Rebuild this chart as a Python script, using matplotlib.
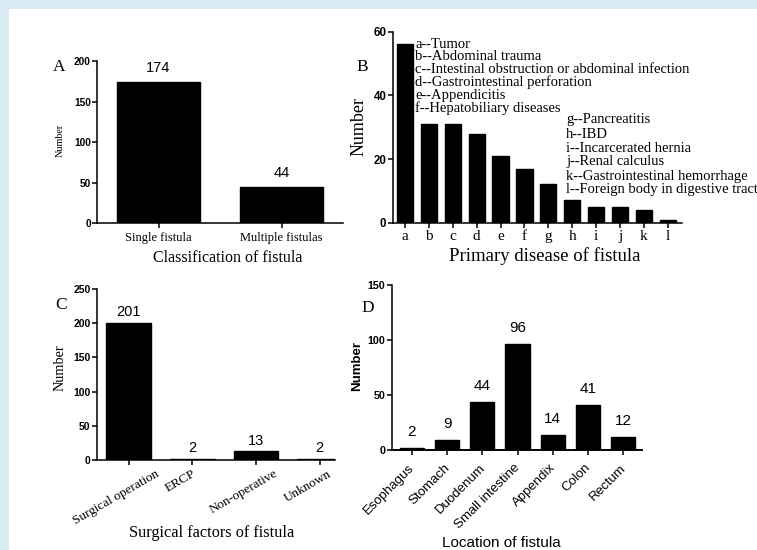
import matplotlib
matplotlib.use("Agg")
import matplotlib.pyplot as plt
from matplotlib.patches import Rectangle
from matplotlib.transforms import ScaledTranslation

# ---------------- data ----------------
a_cats = ["Single fistula", "Multiple fistulas"]
a_vals = [174, 44]

b_cats = ["a", "b", "c", "d", "e", "f", "g", "h", "i", "j", "k", "l"]
b_vals = [56, 31, 31, 28, 21, 17, 12, 7, 5, 5, 4, 1]
b_legend1 = ["a--Tumor", "b--Abdominal trauma",
             "c--Intestinal obstruction or abdominal infection",
             "d--Gastrointestinal perforation", "e--Appendicitis",
             "f--Hepatobiliary diseases"]
b_legend2 = ["g--Pancreatitis", "h--IBD", "i--Incarcerated hernia",
             "j--Renal calculus", "k--Gastrointestinal hemorrhage",
             "l--Foreign body in digestive tract"]

c_cats = ["Surgical operation", "ERCP", "Non-operative", "Unknown"]
c_vals = [201, 2, 13, 2]

d_cats = ["Esophagus", "Stomach", "Duodenum", "Small intestine",
          "Appendix", "Colon", "Rectum"]
d_vals = [2, 9, 44, 96, 14, 41, 12]

# ---------------- figure ----------------
W, H = 757, 550
fig = plt.figure(figsize=(W / 100, H / 100), dpi=100)
fig.patch.set_facecolor("#d8ebf2")
fig.add_artist(Rectangle((9 / W, 0), 1, 1 - 9 / H, transform=fig.transFigure,
                         facecolor="white", edgecolor="none", zorder=0))

SERIF = "Liberation Serif"
SANS = "Liberation Sans"


def fx(x):
    return x / W


def fy(y):
    return 1 - y / H


def add_ax(l, t, r, b):
    ax = fig.add_axes([l / W, 1 - b / H, (r - l) / W, (b - t) / H])
    ax.set_facecolor("none")
    for s in ("top", "right"):
        ax.spines[s].set_visible(False)
    for s in ("left", "bottom"):
        ax.spines[s].set_linewidth(1.1)
    ax.tick_params(direction="out", length=3.5, width=1.1, pad=1)
    return ax


def ytick_font(ax, size):
    for lab in ax.get_yticklabels():
        lab.set_fontfamily(SANS)
        lab.set_fontweight("bold")
        lab.set_fontsize(size)


def shift_xlabels(ax, dx_px, dy_px=0):
    off = ScaledTranslation(dx_px / 100, dy_px / 100, fig.dpi_scale_trans)
    for lab in ax.get_xticklabels():
        lab.set_transform(lab.get_transform() + off)


# ---------------- Panel A ----------------
axA = add_ax(97, 61, 343, 223)
xa = list(range(len(a_cats)))
axA.bar(xa, a_vals, width=0.68, color="black", edgecolor="black")
axA.set_xlim(-0.5, 1.5)
axA.set_ylim(0, 200)
axA.set_yticks([0, 50, 100, 150, 200])
ytick_font(axA, 7.3)
axA.set_xticks(xa)
axA.set_xticklabels(a_cats, fontfamily=SERIF, fontsize=9)
axA.tick_params(axis="x", pad=3)
for x, v in zip(xa, a_vals):
    axA.annotate(str(v), (x, v), xytext=(0, 5), textcoords="offset points",
                 ha="center", va="bottom", fontfamily=SANS, fontsize=10.5)
fig.text(fx(59), fy(67), "A", fontfamily=SERIF, fontsize=12.5,
         ha="center", va="center")
fig.text(fx(60), fy(140), "Number", fontfamily=SERIF, fontsize=7.3,
         rotation=90, ha="center", va="center")
fig.text(fx(228), fy(258), "Classification of fistula", fontfamily=SERIF,
         fontsize=11.5, ha="center", va="center")

# ---------------- Panel B ----------------
axB = add_ax(392.7, 31.7, 681.7, 222.7)
xb = list(range(len(b_cats)))
axB.bar(xb, b_vals, width=0.68, color="black", edgecolor="black")
axB.set_xlim(-0.515, 11.58)
axB.set_ylim(0, 60)
axB.set_yticks([0, 20, 40, 60])
ytick_font(axB, 8.3)
axB.set_xticks(xb)
axB.set_xticklabels(b_cats, fontfamily=SERIF, fontsize=11)
axB.tick_params(axis="x", pad=2)
fig.text(fx(362), fy(67), "B", fontfamily=SERIF, fontsize=12.5,
         ha="center", va="center")
fig.text(fx(359), fy(127), "Number", fontfamily=SERIF, fontsize=13,
         rotation=90, ha="center", va="center")
fig.text(fx(545), fy(256), "Primary disease of fistula", fontfamily=SERIF,
         fontsize=13.5, ha="center", va="center")
for i, t in enumerate(b_legend1):
    fig.text(fx(415), fy(44 + 12.8 * i), t, fontfamily=SERIF, fontsize=10.5,
             ha="left", va="center")
for i, t in enumerate(b_legend2):
    fig.text(fx(566), fy(120 + 14 * i), t, fontfamily=SERIF, fontsize=10.5,
             ha="left", va="center")

# ---------------- Panel C ----------------
axC = add_ax(96.7, 289, 335, 460)
xc = list(range(len(c_cats)))
axC.bar(xc, c_vals, width=0.7, color="black", edgecolor="black")
axC.set_xlim(-0.5, 3.24)
axC.set_ylim(0, 250)
axC.set_yticks([0, 50, 100, 150, 200, 250])
ytick_font(axC, 7.5)
axC.set_xticks(xc)
axC.set_xticklabels(c_cats, fontfamily=SERIF, fontsize=9.5, rotation=30,
                    ha="center", va="top")
axC.tick_params(axis="x", pad=2)
shift_xlabels(axC, -12)
for x, v in zip(xc, c_vals):
    axC.annotate(str(v), (x, v), xytext=(0, 2.5), textcoords="offset points",
                 ha="center", va="bottom", fontfamily=SANS, fontsize=10.5)
fig.text(fx(61), fy(305), "C", fontfamily=SERIF, fontsize=12.5,
         ha="center", va="center")
fig.text(fx(60.5), fy(368), "Number", fontfamily=SERIF, fontsize=10.3,
         rotation=90, ha="center", va="center")
fig.text(fx(212), fy(533), "Surgical factors of fistula", fontfamily=SERIF,
         fontsize=11.7, ha="center", va="center")

# ---------------- Panel D ----------------
axD = add_ax(391.7, 285, 641.7, 450)
xd = list(range(len(d_cats)))
axD.bar(xd, d_vals, width=0.69, color="black", edgecolor="black")
axD.set_xlim(-0.577, 6.53)
axD.set_ylim(0, 150)
axD.set_yticks([0, 50, 100, 150])
ytick_font(axD, 7.7)
axD.spines["bottom"].set_linewidth(1.4)
axD.set_xticks(xd)
axD.set_xticklabels(d_cats, fontfamily=SANS, fontsize=9.5, rotation=45,
                    ha="right", va="top")
axD.tick_params(axis="x", pad=5)
shift_xlabels(axD, 5)
for x, v in zip(xd, d_vals):
    axD.annotate(str(v), (x, v), xytext=(0, 6.5), textcoords="offset points",
                 ha="center", va="bottom", fontfamily=SANS, fontsize=11)
fig.text(fx(368), fy(307.5), "D", fontfamily=SERIF, fontsize=12.5,
         ha="center", va="center")
fig.text(fx(357), fy(366), "Number", fontfamily=SANS, fontsize=9.5,
         fontweight="bold", rotation=90, ha="center", va="center")
fig.text(fx(501), fy(543), "Location of fistula", fontfamily=SANS,
         fontsize=11, ha="center", va="center")

fig.savefig("out.png", dpi=100, facecolor=fig.get_facecolor())
